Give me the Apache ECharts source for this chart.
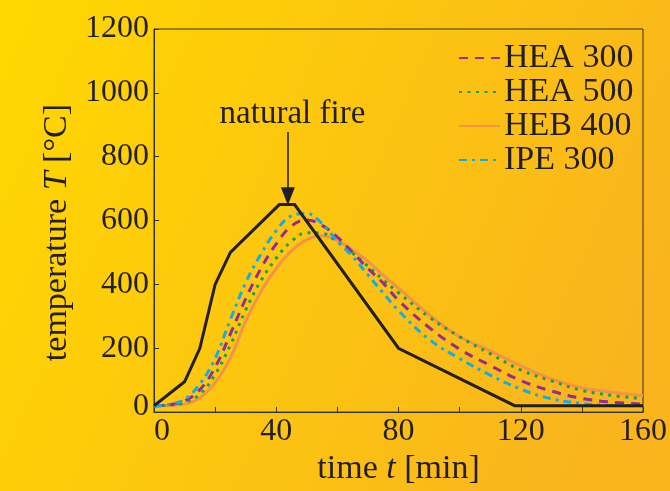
<!DOCTYPE html>
<html>
<head>
<meta charset="utf-8">
<script src="https://cdn.jsdelivr.net/npm/echarts@6/dist/echarts.min.js"></script>
<style>html,body{margin:0;padding:0;}#chart{width:670px;height:491px;}</style>
</head>
<body>
<div id="chart"></div>
<script>
// ---- data ----
const fireTimes = [0, 10, 15, 20, 25, 41, 46, 80, 118, 160];
const fireTemps = [20, 95, 200, 400, 500, 650, 650, 200, 20, 20];

const steelTimes = [0, 5, 10, 15, 20, 25, 30, 35, 40, 45, 50, 55, 60, 65, 70, 75, 80, 90, 100, 110, 120, 130, 140, 150, 160];
const hea300 = [20, 23, 35, 70, 140, 245, 355, 450, 527, 583, 602, 585, 548, 500, 450, 404, 350, 265, 197, 146, 99, 66, 43, 31, 25];
const hea500 = [20, 22, 30, 56, 118, 210, 320, 412, 482, 535, 562, 560, 533, 498, 457, 414, 374, 298, 236, 183, 132, 98, 68, 52, 42];
const heb400 = [20, 21, 25, 45, 92, 170, 285, 378, 450, 505, 540, 552, 537, 507, 472, 428, 388, 305, 236, 192, 145, 104, 76, 62, 51];
const ipe300 = [20, 24, 40, 88, 168, 290, 405, 495, 568, 615, 622, 590, 535, 487, 430, 373, 318, 228, 168, 116, 72, 42, 27, 21, 20];

const seriesNames = ['HEA 300', 'HEA 500', 'HEB 400', 'IPE 300'];
const xTicks = [0, 40, 80, 120, 160];
const yTicks = [0, 200, 400, 600, 800, 1000, 1200];

// annotation (data coordinates)
const annotText = 'natural fire';
const arrowTime = 43.8;
const arrowTopTemp = 877;
const arrowEndTemp = 676;
const annotLabelPos = [45.3, 932];

const pairs = (xs, ys) => xs.map((x, i) => [x, ys[i]]);

const FONT = 'Liberation Serif';
const TXT = '#231f20';

const chart = echarts.init(document.getElementById('chart'), null, {renderer: 'canvas'});

const steelStyle = (color, dash) => ({
  type: 'line', smooth: 0.4, symbol: 'none', showSymbol: false,
  lineStyle: {color: color, width: 3, type: dash, cap: 'butt'},
  itemStyle: {color: color},
  emphasis: {disabled: true}
});

const option = {
  animation: false,
  backgroundColor: new echarts.graphic.LinearGradient(0, 0, 1, 0.6, [
    {offset: 0, color: '#FFD800'},
    {offset: 1, color: '#F9B41E'}
  ]),
  grid: {left: 154, right: 26, top: 29, bottom: 75, show: true, borderColor: '#333', borderWidth: 1, backgroundColor: 'transparent'},
  legend: {
    data: seriesNames,
    orient: 'vertical',
    left: 458, top: 41,
    itemWidth: 41, itemHeight: 14, itemGap: 0,
    padding: 0,
    itemStyle: {opacity: 0},
    textStyle: {fontFamily: FONT, fontSize: 34, color: TXT, padding: [0, 0, 0, -1]}
  },
  xAxis: {
    type: 'value', min: 0, max: 160, interval: 40,
    name: 'time {i|t} [min]', nameLocation: 'middle', nameGap: 34,
    nameTextStyle: {fontFamily: FONT, fontSize: 34, color: TXT, rich: {i: {fontFamily: FONT, fontSize: 34, fontStyle: 'italic', color: TXT}}},
    axisLine: {show: true, lineStyle: {color: '#333', width: 1}},
    axisTick: {show: true, inside: true, length: 5, lineStyle: {color: '#333'}},
    minorTick: {show: true, splitNumber: 2, length: 5, lineStyle: {color: '#333'}},
    splitLine: {show: false},
    axisLabel: {
      fontFamily: FONT, fontSize: 32, color: TXT, margin: 3,
      formatter: v => (v === xTicks[0] ? '{z|' + v + '}' : String(v)),
      rich: {z: {fontFamily: FONT, fontSize: 32, color: TXT, padding: [0, 0, 0, 16]}}
    }
  },
  yAxis: {
    type: 'value', min: 0, max: 1200, interval: 200,
    name: 'temperature {i|T} [°C]', nameLocation: 'middle', nameGap: 63,
    nameTextStyle: {fontFamily: FONT, fontSize: 34, color: TXT, padding: [0, 24, 0, 0], rich: {i: {fontFamily: FONT, fontSize: 34, fontStyle: 'italic', color: TXT}}},
    axisLine: {show: true, lineStyle: {color: '#333', width: 1}},
    axisTick: {show: true, inside: true, length: 5, lineStyle: {color: '#333'}},
    splitLine: {show: false},
    axisLabel: {
      fontFamily: FONT, fontSize: 32, color: TXT, margin: 5,
      formatter: v => (v === yTicks[0] ? '{z|' + v + '}' : String(v)),
      rich: {z: {fontFamily: FONT, fontSize: 32, color: TXT, padding: [0, 0, 12, 0]}}
    }
  },
  series: [
    Object.assign(steelStyle('#F4924B', 'solid'), {name: seriesNames[2], z: 2, data: pairs(steelTimes, heb400)}),
    Object.assign(steelStyle('#16A14E', [3, 5.5]), {name: seriesNames[1], z: 3, data: pairs(steelTimes, hea500)}),
    Object.assign(steelStyle('#9A2A90', [9, 7]), {name: seriesNames[0], z: 4, data: pairs(steelTimes, hea300)}),
    Object.assign(steelStyle('#12ACE6', [8, 5, 3, 5]), {name: seriesNames[3], z: 5, data: pairs(steelTimes, ipe300)}),
    {
      name: annotText, type: 'line', z: 6, symbol: 'none', showSymbol: false,
      lineStyle: {color: '#231f20', width: 3, join: 'miter'},
      itemStyle: {color: '#231f20'},
      emphasis: {disabled: true},
      data: pairs(fireTimes, fireTemps),
      markLine: {
        silent: true, animation: false,
        symbol: ['none', 'triangle'], symbolSize: [14, 18],
        lineStyle: {color: '#231f20', width: 1.5, type: 'solid'},
        label: {show: false},
        emphasis: {disabled: true},
        data: [[{coord: [arrowTime, arrowTopTemp]}, {coord: [arrowTime, arrowEndTemp]}]]
      },
      markPoint: {
        silent: true, animation: false,
        symbol: 'circle', symbolSize: 1,
        itemStyle: {color: 'rgba(0,0,0,0)'},
        label: {show: true, position: 'inside', formatter: annotText, fontFamily: FONT, fontSize: 33, color: TXT},
        data: [{coord: annotLabelPos}]
      }
    }
  ]
};
chart.setOption(option);
</script>
</body>
</html>
